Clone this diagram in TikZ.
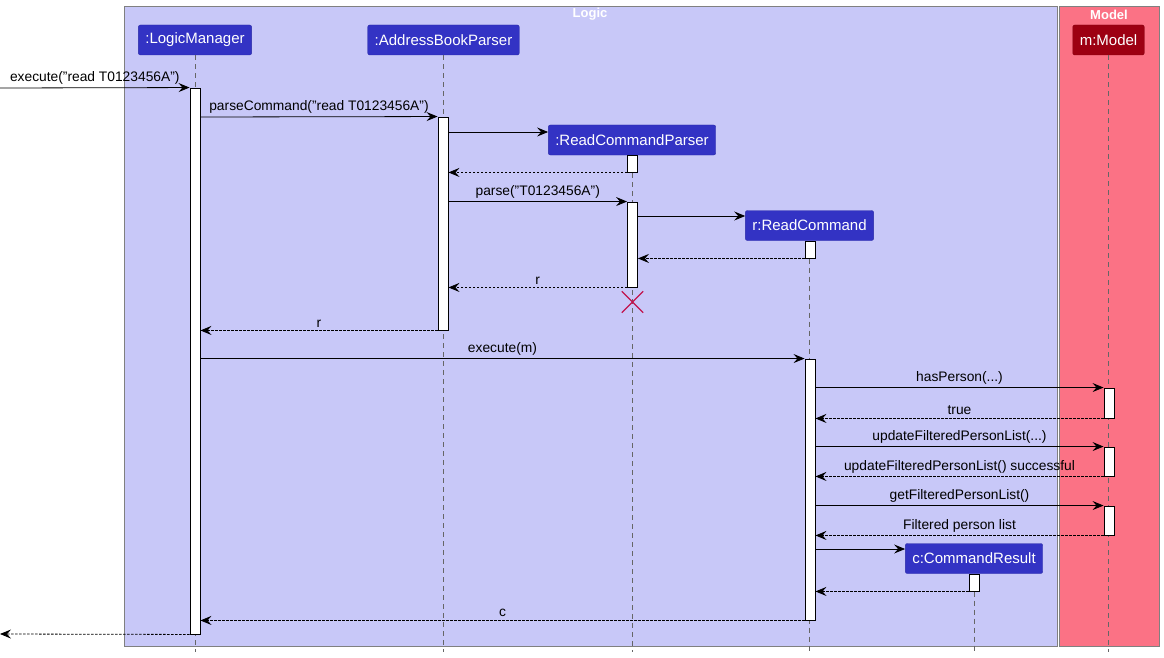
\documentclass[tikz,border=0pt]{standalone}
\usepackage{fontspec}
\setmainfont{Liberation Sans}
\usetikzlibrary{arrows.meta, shapes.misc}

\definecolor{logicfill}{HTML}{C8C8F8}
\definecolor{modelfill}{HTML}{FB7285}
\definecolor{logicblue}{HTML}{3333C4}
\definecolor{modelred}{HTML}{9D0012}
\definecolor{destroyred}{HTML}{C2134D}
\definecolor{framegray}{HTML}{808080}

\begin{document}
\begin{tikzpicture}[x=1pt, y=-1pt]

        % 1. Styles for the sequence diagram
        \tikzset{
            participant/.style={rectangle, rounded corners=2pt, draw=logicblue!85!black, fill=logicblue, text=white,
                font=\fontsize{15}{18}\selectfont, minimum height=30pt, inner xsep=7pt, inner ysep=0pt},
            modelparticipant/.style={participant, draw=modelred!85!black, fill=modelred},
            lifeline/.style={draw=black!60, dash pattern=on 5pt off 4pt, line width=0.6pt},
            activation/.style={rectangle, draw=black, fill=white, line width=0.9pt, minimum width=10pt, inner sep=0pt},
            call/.style={-{Stealth[length=11pt, width=9pt, inset=4pt]}, line width=0.8pt},
            reply/.style={call, dash pattern=on 2.5pt off 1.5pt},
            msg/.style={midway, above, inner sep=3pt, font=\fontsize{13.8}{16}\selectfont},
            frametitle/.style={text=white, font=\bfseries\fontsize{13}{15}\selectfont}
        }

        \useasboundingbox (0,0) rectangle (1164,658);

        % 2. The two boxes (Logic and Model)
        \draw[framegray, fill=logicfill] (124,6) rectangle (1057,646);
        \draw[framegray, fill=modelfill] (1059,6) rectangle (1159,646);
        \node[frametitle] (logicTitle) at (590,14.5) {Logic};
        \node[frametitle] (modelTitle) at (1109,14.5) {Model};

        % 3. Participants and their lifelines
        \node[participant] (lm) at (195,40) {:LogicManager};
        \node[participant] (abp) at (443.5,40) {:AddressBookParser};
        \node[participant] (rcp) at (632,140) {:ReadCommandParser};
        \node[participant] (rc) at (809.5,225.5) {r:ReadCommand};
        \node[participant] (cr) at (974,558.5) {c:CommandResult};
        \node[modelparticipant] (m) at (1108.5,40) {m:Model};

        \foreach \p in {lm, abp, rcp, rc, cr, m}
            \draw[lifeline] (\p.south) -- (\p.south |- 0,652);

        % 4. Activation bars
        \node[activation, minimum height=546pt] (lmBar) at (195,361) {};
        \node[activation, minimum height=213pt] (abpBar) at (443,223.5) {};
        \node[activation, minimum height=17pt] (rcpBarA) at (632.5,163.5) {};
        \node[activation, minimum height=85pt] (rcpBarB) at (632.5,244.5) {};
        \node[activation, minimum height=17pt] (rcBarA) at (810,249.5) {};
        \node[activation, minimum height=261pt] (rcBarB) at (810,489.5) {};
        \node[activation, minimum height=30pt] (mBarA) at (1109,403) {};
        \node[activation, minimum height=29pt] (mBarB) at (1109,461.5) {};
        \node[activation, minimum height=29pt] (mBarC) at (1109,520.5) {};
        \node[activation, minimum height=17pt] (crBar) at (974,582.5) {};

        % 5. Messages
        \coordinate (caller) at (0,88);
        \coordinate (callerEnd) at (0,634);
        \draw[call] (caller) -- (lmBar.north west) node[msg] {execute("read T0123456A")};
        \draw[call] (lmBar.east |- 0,117) -- (abpBar.north west) node[msg] {parseCommand("read T0123456A")};
        \draw[call] (abpBar.east |- 0,132) -- (rcp.west |- 0,132);
        \draw[reply] (rcpBarA.south west) -- (abpBar.east |- rcpBarA.south);
        \draw[call] (abpBar.east |- rcpBarB.north) -- (rcpBarB.north west) node[msg] {parse("T0123456A")};
        \draw[call] (rcpBarB.east |- 0,216) -- (rc.west |- 0,216);
        \draw[reply] (rcBarA.south west) -- (rcpBarB.east |- rcBarA.south);
        \draw[reply] (rcpBarB.south west) -- (abpBar.east |- rcpBarB.south) node[msg] {r};

        % ReadCommandParser is destroyed
        \node[cross out, draw=destroyred, line width=1.3pt, minimum size=20pt, inner sep=0pt] (rcpEnd) at (632.5,302) {};

        \draw[reply] (abpBar.south west) -- (lmBar.east |- abpBar.south) node[msg] {r};
        \draw[call] (lmBar.east |- rcBarB.north) -- (rcBarB.north west) node[msg] {execute(m)};

        % Calls to the model
        \draw[call] (rcBarB.east |- mBarA.north) -- (mBarA.north west) node[msg] {hasPerson(...)};
        \draw[reply] (mBarA.south west) -- (rcBarB.east |- mBarA.south) node[msg] {true};
        \draw[call] (rcBarB.east |- mBarB.north) -- (mBarB.north west) node[msg] {updateFilteredPersonList(...)};
        \draw[reply] (mBarB.south west) -- (rcBarB.east |- mBarB.south) node[msg] {updateFilteredPersonList() successful};
        \draw[call] (rcBarB.east |- mBarC.north) -- (mBarC.north west) node[msg] {getFilteredPersonList()};
        \draw[reply] (mBarC.south west) -- (rcBarB.east |- mBarC.south) node[msg] {Filtered person list};

        % Result
        \draw[call] (rcBarB.east |- 0,549) -- (cr.west |- 0,549);
        \draw[reply] (crBar.south west) -- (rcBarB.east |- crBar.south);
        \draw[reply] (rcBarB.south west) -- (lmBar.east |- rcBarB.south) node[msg] {c};
        \draw[reply] (lmBar.south west) -- (callerEnd);

\end{tikzpicture}
\end{document}
